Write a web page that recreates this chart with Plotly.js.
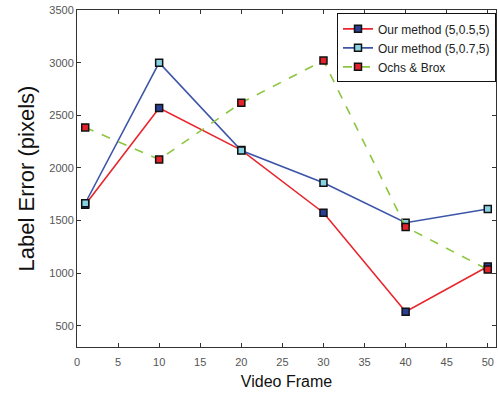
<!DOCTYPE html>
<html>
<head>
<meta charset="utf-8">
<script src="https://cdn.plot.ly/plotly-3.0.1.min.js"></script>
<style>html,body{margin:0;padding:0;background:#fff;}#chart{width:499px;height:394px;}</style>
</head>
<body>
<div id="chart"></div>
<script>
const frames = [1, 10, 20, 30, 40, 50];
const seriesNames = ["Our method (5,0.5,5)", "Our method (5,0.7,5)", "Ochs & Brox"];
const ours055 = [1650, 2570, 2170, 1575, 635, 1065];
const ours075 = [1665, 3000, 2165, 1860, 1480, 1610];
const ochsBrox = [2385, 2080, 2620, 3020, 1440, 1035];
const xTicks = [0, 5, 10, 15, 20, 25, 30, 35, 40, 45, 50];
const yTicks = [500, 1000, 1500, 2000, 2500, 3000, 3500];

const mk = (fill) => ({symbol: "square", size: 7, color: fill, line: {color: "#111", width: 1.5}});
const traces = [
  {x: frames, y: ours055, name: seriesNames[0], mode: "lines+markers",
   line: {color: "#e8262d", width: 1.6}, marker: mk("#2b3f92")},
  {x: frames, y: ours075, name: seriesNames[1], mode: "lines+markers",
   line: {color: "#3c55a8", width: 1.6}, marker: mk("#86d3e3")},
  {x: frames, y: ochsBrox, name: seriesNames[2], mode: "lines+markers",
   line: {color: "#8cc63f", width: 1.6, dash: "dash"}, marker: mk("#e3232a")}
];
const axisCommon = {
  showgrid: false, zeroline: false, showline: true, mirror: "ticks",
  linecolor: "#333", linewidth: 1, ticks: "inside", ticklen: 4, tickcolor: "#333",
  tickfont: {family: "Arial, Liberation Sans, sans-serif", size: 11, color: "#555"}
};
const layout = {
  width: 499, height: 394,
  margin: {l: 77, r: 3, t: 10, b: 47},
  paper_bgcolor: "#fff", plot_bgcolor: "#fff",
  showlegend: true,
  legend: {
    x: 1, xanchor: "right", y: 0.99, yanchor: "top",
    bgcolor: "#fff", bordercolor: "#111", borderwidth: 1,
    font: {family: "Arial, Liberation Sans, sans-serif", size: 12, color: "#222"},
    tracegroupgap: 0
  },
  xaxis: Object.assign({}, axisCommon, {
    range: [0, 51], tickvals: xTicks, ticktext: xTicks.map(String), ticklabelstandoff: 5,
    title: {text: "Video Frame", font: {family: "Arial, Liberation Sans, sans-serif", size: 16, color: "#111"}, standoff: 8}
  }),
  yaxis: Object.assign({}, axisCommon, {
    range: [300, 3500], tickvals: yTicks, ticktext: yTicks.map(String),
    title: {text: "Label Error (pixels)", font: {family: "Arial, Liberation Sans, sans-serif", size: 22, color: "#111"}, standoff: 8}
  })
};
Plotly.newPlot("chart", traces, layout, {staticPlot: true, displayModeBar: false});
</script>
</body>
</html>
